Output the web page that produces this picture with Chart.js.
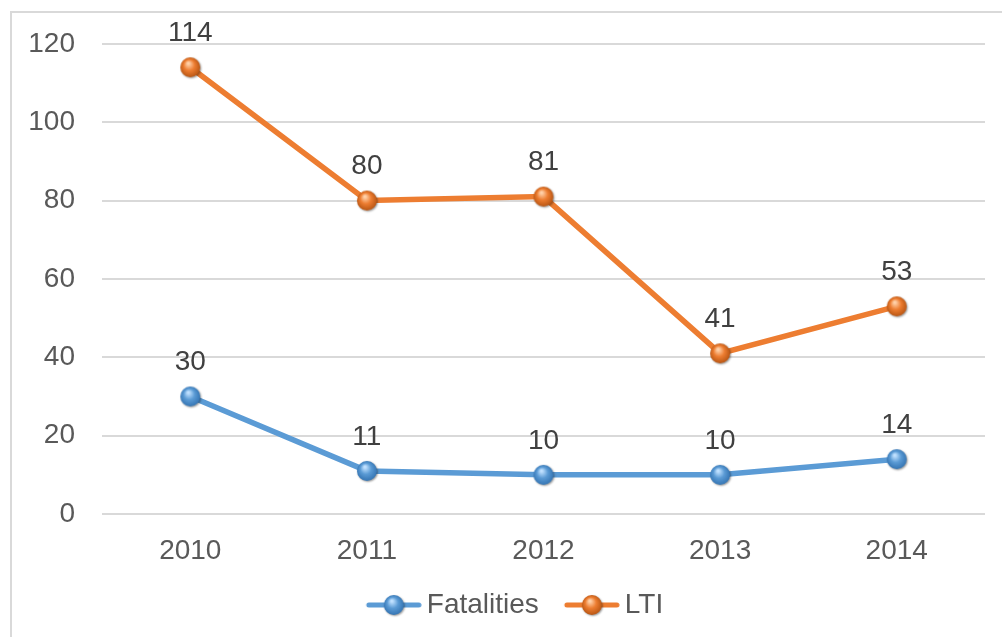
<!DOCTYPE html>
<html>
<head>
<meta charset="utf-8">
<script src="https://cdn.jsdelivr.net/npm/chart.js@4"></script>
<style>
  html, body { margin: 0; padding: 0; background: #fff; }
  #wrap { width: 1002px; height: 637px; }
</style>
</head>
<body>
<div id="wrap"><canvas id="myChart" width="1002" height="637"></canvas></div>
<script>
// data
var years = ['2010', '2011', '2012', '2013', '2014'];
var fatalities = [30, 11, 10, 10, 14];
var lti = [114, 80, 81, 41, 53];
var yTicks = [0, 20, 40, 60, 80, 100, 120];

var blue = '#5B9BD5';
var orange = '#ED7D31';
var fontFam = '"Liberation Sans", Arial, sans-serif';

// shaded ball marker like the office one
function ball(color, light, dark) {
  var c = document.createElement('canvas');
  c.width = 26; c.height = 26;
  var g = c.getContext('2d');
  g.shadowColor = 'rgba(0,0,0,0.4)';
  g.shadowBlur = 2;
  g.shadowOffsetX = 1;
  g.shadowOffsetY = 1;
  var grad = g.createRadialGradient(11, 9, 1, 13, 13, 11);
  grad.addColorStop(0, light);
  grad.addColorStop(0.45, color);
  grad.addColorStop(1, dark);
  g.fillStyle = grad;
  g.beginPath();
  g.arc(13, 13, 10, 0, Math.PI * 2);
  g.fill();
  return c;
}

// legend icon: 80 wide, the line+ball sits in the right 56px
function legendIcon(color, marker) {
  var c = document.createElement('canvas');
  c.width = 80; c.height = 26;
  var g = c.getContext('2d');
  g.strokeStyle = color;
  g.lineWidth = 5;
  g.lineCap = 'round';
  g.beginPath();
  g.moveTo(27, 13);
  g.lineTo(77, 13);
  g.stroke();
  g.drawImage(marker, 39, 0);
  return c;
}

var blueBall = ball(blue, '#bfe0ff', '#2f6fae');
var orangeBall = ball(orange, '#ffd0a8', '#b1500f');
var icons = [legendIcon(blue, blueBall), legendIcon(orange, orangeBall)];

var frame = {
  id: 'frame',
  beforeDraw: function(chart) {
    var ctx = chart.ctx;
    ctx.save();
    ctx.fillStyle = '#fff';
    ctx.fillRect(0, 0, chart.width, chart.height);
    ctx.strokeStyle = '#d9d9d9';
    ctx.lineWidth = 2;
    ctx.strokeRect(11, 12, chart.width + 20, chart.height + 20);
    ctx.restore();
  }
};

var valueLabels = {
  id: 'valueLabels',
  afterDatasetsDraw: function(chart) {
    var ctx = chart.ctx;
    ctx.save();
    ctx.font = '28px ' + fontFam;
    ctx.fillStyle = '#404040';
    ctx.textAlign = 'center';
    ctx.textBaseline = 'middle';
    chart.data.datasets.forEach(function(ds, i) {
      chart.getDatasetMeta(i).data.forEach(function(pt, j) {
        ctx.fillText(String(ds.data[j]), pt.x, pt.y - 34);
      });
    });
    ctx.restore();
  }
};

var ctx = document.getElementById('myChart').getContext('2d');
var chart = new Chart(ctx, {
  type: 'line',
  data: {
    labels: years,
    datasets: [{
      label: 'Fatalities',
      data: fatalities,
      borderColor: blue,
      backgroundColor: blue,
      borderWidth: 5.5,
      pointStyle: blueBall,
      tension: 0
    }, {
      label: 'LTI',
      data: lti,
      borderColor: orange,
      backgroundColor: orange,
      borderWidth: 5.5,
      pointStyle: orangeBall,
      tension: 0
    }]
  },
  options: {
    responsive: false,
    animation: false,
    layout: { padding: { left: 29, right: 17, top: 41, bottom: 8 } },
    plugins: {
      tooltip: { enabled: false },
      legend: {
        position: 'bottom',
        labels: {
          usePointStyle: true,
          pointStyleWidth: 62,
          boxHeight: 20,
          padding: 10,
          color: '#595959',
          font: { size: 28, family: fontFam },
          generateLabels: function(chart) {
            return chart.data.datasets.map(function(ds, i) {
              return {
                text: ds.label,
                pointStyle: icons[i],
                fillStyle: ds.borderColor,
                strokeStyle: ds.borderColor,
                lineWidth: 0,
                fontColor: '#595959',
                datasetIndex: i
              };
            });
          }
        }
      }
    },
    scales: {
      x: {
        offset: true,
        grid: { display: false },
        border: { display: false },
        ticks: {
          color: '#595959',
          padding: 12,
          font: { size: 28, family: fontFam }
        },
        afterFit: function(s) { s.height = 67; }
      },
      y: {
        min: 0,
        max: 120,
        afterBuildTicks: function(s) {
          s.ticks = yTicks.map(function(v) { return { value: v }; });
        },
        grid: { color: '#d9d9d9', lineWidth: 2, drawTicks: false },
        border: { display: false },
        ticks: {
          color: '#595959',
          padding: 27,
          font: { size: 28, family: fontFam }
        },
        afterFit: function(s) { s.width = 73; }
      }
    }
  },
  plugins: [frame, valueLabels]
});
</script>
</body>
</html>
